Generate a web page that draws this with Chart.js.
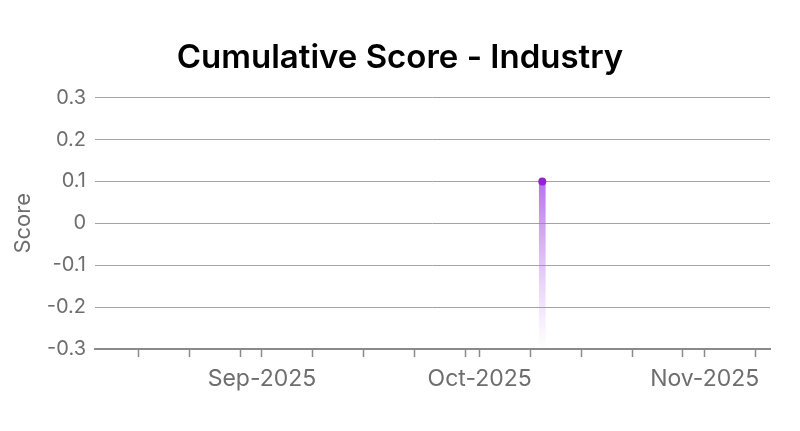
<!DOCTYPE html>
<html>
<head>
<meta charset="utf-8">
<script src="https://cdn.jsdelivr.net/npm/chart.js@4.4.0/dist/chart.umd.min.js"></script>
<style>
  html, body { margin: 0; padding: 0; background: #fff; }
</style>
</head>
<body>
<canvas id="scoreChart" width="800" height="431"></canvas>
<script>
// data
var dates = ['2025-10-09T15:00:00Z'];
var scores = [0.1];
var fillBase = -0.3;
var xMin = '2025-08-09T00:00:00Z';
var xMax = '2025-11-10T00:00:00Z';
var yTicks = [-0.3, -0.2, -0.1, 0, 0.1, 0.2, 0.3];
var tickDays = [1, 8, 15, 22, 29];
var monthNames = ['Jan', 'Feb', 'Mar', 'Apr', 'May', 'Jun', 'Jul', 'Aug', 'Sep', 'Oct', 'Nov', 'Dec'];

var gray = '#6e6e6e';
var font = 'Inter, "Noto Sans", sans-serif';

var barPoints = dates.map(function (d, i) {
    return { x: Date.parse(d), y: [fillBase, scores[i]] };
});
var linePoints = dates.map(function (d, i) {
    return { x: Date.parse(d), y: scores[i] };
});

function barGradient(ctx) {
    var chart = ctx.chart;
    var area = chart.chartArea;
    if (!area) return 'rgba(170,90,230,0.6)';
    var top = chart.scales.y.getPixelForValue(Math.max.apply(null, scores));
    var g = chart.ctx.createLinearGradient(0, top, 0, area.bottom);
    g.addColorStop(0, 'rgba(172, 88, 232, 0.85)');
    g.addColorStop(1, 'rgba(200, 150, 240, 0)');
    return g;
}

var scoreCanvas = document.getElementById('scoreChart').getContext('2d');
var scoreChart = new Chart(scoreCanvas, {
    type: 'bar',
    data: {
        datasets: [{
            type: 'line',
            data: linePoints,
            showLine: false,
            pointRadius: 4,
            pointHoverRadius: 4,
            pointBackgroundColor: '#9620d6',
            pointBorderWidth: 0,
            order: 0
        }, {
            type: 'bar',
            data: barPoints,
            backgroundColor: barGradient,
            barThickness: 6,
            borderWidth: 0,
            order: 1
        }]
    },
    options: {
        responsive: false,
        animation: false,
        layout: { padding: 0 },
        plugins: {
            legend: { display: false },
            tooltip: { enabled: false },
            title: {
                display: true,
                text: 'Cumulative Score - Industry',
                color: '#000',
                font: { family: font, size: 33, weight: '600' },
                padding: { top: 38, bottom: 20 }
            }
        },
        scales: {
            x: {
                type: 'linear',
                offset: false,
                min: Date.parse(xMin),
                max: Date.parse(xMax),
                afterBuildTicks: function (scale) {
                    var ticks = [];
                    var d = new Date(scale.min);
                    var y = d.getUTCFullYear(), m = d.getUTCMonth();
                    for (var k = 0; k < 6; k++) {
                        tickDays.forEach(function (day) {
                            var t = Date.UTC(y, m + k, day);
                            if (t >= scale.min && t <= scale.max) ticks.push({ value: t });
                        });
                    }
                    scale.ticks = ticks;
                },
                afterFit: function (scale) { scale.height = 82; },
                grid: {
                    offset: false,
                    drawOnChartArea: false,
                    drawTicks: true,
                    tickLength: 8,
                    tickColor: '#8a8a8a',
                    tickWidth: 1.5
                },
                border: { display: true, color: '#8a8a8a', width: 2 },
                ticks: {
                    autoSkip: false,
                    maxRotation: 0,
                    padding: 8,
                    color: gray,
                    font: { family: font, size: 23 },
                    callback: function (value) {
                        var d = new Date(value);
                        if (d.getUTCDate() !== 1) return '';
                        return monthNames[d.getUTCMonth()] + '-' + d.getUTCFullYear();
                    }
                }
            },
            y: {
                min: yTicks[0],
                max: yTicks[yTicks.length - 1],
                afterBuildTicks: function (scale) {
                    scale.ticks = yTicks.map(function (v) { return { value: v }; });
                },
                afterFit: function (scale) { scale.width = 95; },
                grid: { color: '#a3a3a3', lineWidth: 1, drawTicks: false },
                border: { display: false },
                title: {
                    display: true,
                    text: 'Score',
                    color: gray,
                    font: { family: font, size: 22 },
                    padding: { top: 10, bottom: 0 }
                },
                ticks: {
                    padding: 9,
                    color: gray,
                    font: { family: font, size: 20 },
                    callback: function (value) {
                        return String(Math.round(value * 10) / 10);
                    }
                }
            },
            // empty axis on the right keeps the plot clear of the edge
            yRight: {
                position: 'right',
                display: true,
                grid: { display: false },
                border: { display: false },
                ticks: { display: false },
                afterFit: function (scale) { scale.width = 30; }
            }
        }
    }
});
</script>
</body>
</html>
